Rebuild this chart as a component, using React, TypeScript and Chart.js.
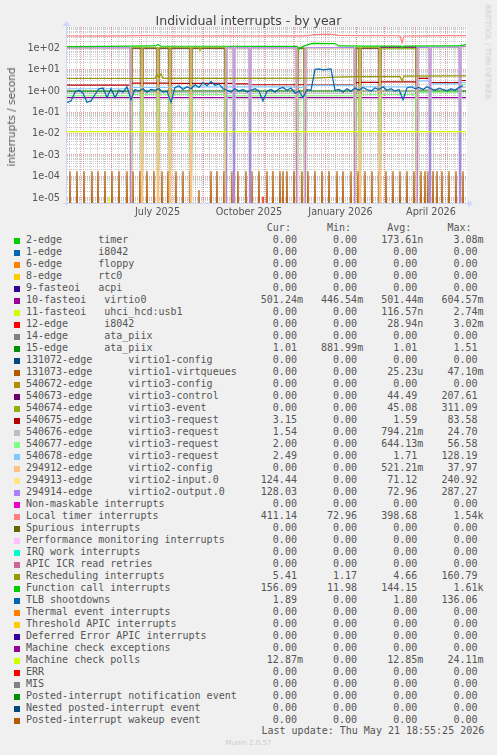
import React, { useEffect, useRef } from 'react';
import { Chart, registerables } from 'chart.js';

Chart.register(...registerables);

// ---------- text ----------
const TITLE = 'Individual interrupts - by year';
const Y_TITLE = 'interrupts / second';
const SIDE_TEXT = 'RRDTOOL / TOBI OETIKER';
const LAST_UPDATE = 'Last update: Thu May 21 18:55:25 2026';
const FOOTER = 'Munin 2.0.57';
const HEADERS = ['Cur:', 'Min:', 'Avg:', 'Max:'];

// ---------- axes ----------
const DAY_MAX = 399; // day 0 = 18 Apr 2025
const X_MIN = 0;
const X_MAX = 400;
const Y_MIN = 5.3e-6;
const Y_MAX = 1000;
const LOG_FLOOR = 1e-9; // zero is drawn below the bottom of the log axis, as rrdtool does
const Y_TICKS = [1e-5, 1e-4, 1e-3, 1e-2, 1e-1, 1, 10, 100];
const MONTH_START_DAYS = [13, 44, 74, 105, 136, 166, 197, 227, 258, 289, 317, 348, 378];
const X_LABELS = ['July 2025', 'October 2025', 'January 2026', 'April 2026'];
const X_LABEL_DAYS = [90.5, 182, 273.5, 364];

// ---------- legend ----------
const NAMES = [
  '2-edge      timer',
  '1-edge      i8042',
  '6-edge      floppy',
  '8-edge      rtc0',
  '9-fasteoi   acpi',
  '10-fasteoi   virtio0',
  '11-fasteoi   uhci_hcd:usb1',
  '12-edge      i8042',
  '14-edge      ata_piix',
  '15-edge      ata_piix',
  '131072-edge      virtio1-config',
  '131073-edge      virtio1-virtqueues',
  '540672-edge      virtio3-config',
  '540673-edge      virtio3-control',
  '540674-edge      virtio3-event',
  '540675-edge      virtio3-request',
  '540676-edge      virtio3-request',
  '540677-edge      virtio3-request',
  '540678-edge      virtio3-request',
  '294912-edge      virtio2-config',
  '294913-edge      virtio2-input.0',
  '294914-edge      virtio2-output.0',
  'Non-maskable interrupts',
  'Local timer interrupts',
  'Spurious interrupts',
  'Performance monitoring interrupts',
  'IRQ work interrupts',
  'APIC ICR read retries',
  'Rescheduling interrupts',
  'Function call interrupts',
  'TLB shootdowns',
  'Thermal event interrupts',
  'Threshold APIC interrupts',
  'Deferred Error APIC interrupts',
  'Machine check exceptions',
  'Machine check polls',
  'ERR',
  'MIS',
  'Posted-interrupt notification event',
  'Nested posted-interrupt event',
  'Posted-interrupt wakeup event',
];

const COLORS = [
  '#00CC00', '#0066B3', '#FF8000', '#FFCC00', '#330099', '#990099', '#CCFF00', '#FF0000',
  '#808080', '#008F00', '#00487D', '#B35A00', '#B38F00', '#6B006B', '#8FB300', '#B30000',
  '#BEBEBE', '#80FF80', '#80C9FF', '#FFC080', '#FFE680', '#AA80FF', '#EE00CC', '#FF8080',
  '#666600', '#FFBFFF', '#00FFCC', '#CC6699', '#999900', '#00CC00', '#0066B3', '#FF8000',
  '#FFCC00', '#330099', '#990099', '#CCFF00', '#FF0000', '#808080', '#008F00', '#00487D',
  '#B35A00',
];

const CUR = [
  '0.00', '0.00', '0.00', '0.00', '0.00', '501.24m', '0.00', '0.00', '0.00', '1.01',
  '0.00', '0.00', '0.00', '0.00', '0.00', '3.15', '1.54', '2.00', '2.49', '0.00',
  '124.44', '128.03', '0.00', '411.14', '0.00', '0.00', '0.00', '0.00', '5.41', '156.09',
  '1.89', '0.00', '0.00', '0.00', '0.00', '12.87m', '0.00', '0.00', '0.00', '0.00', '0.00',
];
const MIN = [
  '0.00', '0.00', '0.00', '0.00', '0.00', '446.54m', '0.00', '0.00', '0.00', '881.99m',
  '0.00', '0.00', '0.00', '0.00', '0.00', '0.00', '0.00', '0.00', '0.00', '0.00',
  '0.00', '0.00', '0.00', '72.96', '0.00', '0.00', '0.00', '0.00', '1.17', '11.98',
  '0.00', '0.00', '0.00', '0.00', '0.00', '0.00', '0.00', '0.00', '0.00', '0.00', '0.00',
];
const AVG = [
  '173.61n', '0.00', '0.00', '0.00', '0.00', '501.44m', '116.57n', '28.94n', '0.00', '1.01',
  '0.00', '25.23u', '0.00', '44.49', '45.08', '1.59', '794.21m', '644.13m', '1.71', '521.21m',
  '71.12', '72.96', '0.00', '398.68', '0.00', '0.00', '0.00', '0.00', '4.66', '144.15',
  '1.80', '0.00', '0.00', '0.00', '0.00', '12.85m', '0.00', '0.00', '0.00', '0.00', '0.00',
];
const MAX = [
  '3.08m', '0.00', '0.00', '0.00', '0.00', '604.57m', '2.74m', '3.02m', '0.00', '1.51',
  '0.00', '47.10m', '0.00', '207.61', '311.09', '83.58', '24.70', '56.58', '128.19', '37.97',
  '240.92', '287.27', '0.00', '1.54k', '0.00', '0.00', '0.00', '0.00', '160.79', '1.61k',
  '136.06', '0.00', '0.00', '0.00', '0.00', '24.11m', '0.00', '0.00', '0.00', '0.00', '0.00',
];

// ---------- series values ----------
type Pt = [number, number | null];

// days of the VM restarts (request queues have no data, config irqs spike)
const RESTART_DAYS = [64, 75, 91, 103, 124, 159, 167, 183, 230, 238, 288, 293, 313, 350, 363, 393];
// level of the request-queue series in the 17 periods between those days
const V540675_LEVELS = [1.9, 2.4, 2.4, 2.4, 2.3, 2.3, 2.3, 2.2, 2.0, 2.0, 1.9, 2.5, 2.6, 2.7, 4.0, 2.5, 3.15];
const V540676_LEVELS = [0.8, 0.9, 0.9, 0.9, 0.9, 0.9, 0.8, 0.8, 0.8, 0.8, 0.8, 1.0, 1.0, 1.0, 1.2, 1.2, 1.54];
const V540677_LEVELS = [0.6, 0.7, 0.7, 0.7, 0.7, 0.7, 0.6, 0.6, 0.6, 0.6, 0.6, 0.7, 0.7, 0.7, 0.9, 0.9, 2.0];
const V540678_LEVELS = [1.3, 1.5, 1.5, 1.5, 1.5, 1.6, 1.6, 1.6, 1.6, 1.5, 1.8, 1.6, 1.6, 1.6, 3.0, 2.2, 2.49];
// virtio2-config interrupts at each restart
const V294912_SPIKES = [95, 90, 100, 92, 96, 105, 90, 95, 98, 92, 100, 90, 98, 95, 92, 100];

// the ~100/s devices: virtio2 (input/output) and virtio3 (control/event) take turns
const V540673: Pt[] = [
  [0, 0], [64, 0], [65, 100], [74, 100], [75, 0], [76, 100], [90, 100], [91, 0], [92, 100],
  [102, 100], [103, 0], [104, 100], [123, 100], [124, 0], [125, 100], [158, 100], [159, 0],
  [230, 0], [231, 100], [237, 100], [238, 0], [288, 0], [289, 100], [292, 100], [293, 0],
  [294, 100], [312, 100], [313, 0], [314, 115], [349, 115], [350, 0], [399, 0],
];
const V540674: Pt[] = [
  [0, 0], [64, 0], [65, 106], [74, 106], [75, 0], [76, 106], [90, 106], [91, 0], [92, 106],
  [102, 106], [103, 0], [104, 106], [123, 106], [124, 0], [125, 106], [132, 106], [133, 80],
  [134, 106], [158, 106], [159, 0], [230, 0], [231, 104], [237, 104], [238, 0], [288, 0],
  [289, 105], [292, 105], [293, 0], [294, 105], [312, 105], [313, 0], [314, 96], [349, 96],
  [350, 0], [399, 0],
];
const V294913: Pt[] = [
  [0, 100], [63, 100], [64, 0], [159, 0], [160, 100], [166, 100], [167, 0], [168, 100],
  [182, 100], [183, 0], [184, 100], [229, 101], [230, 0], [238, 0], [239, 102], [287, 102],
  [288, 0], [350, 0], [351, 106], [362, 106], [363, 0], [364, 108], [392, 110], [393, 0],
  [394, 118], [399, 122],
];
const V294914: Pt[] = [
  [0, 104], [63, 105], [64, 0], [159, 0], [160, 105], [166, 105], [167, 0], [168, 105],
  [182, 105], [183, 0], [184, 105], [229, 106], [230, 0], [238, 0], [239, 107], [287, 108],
  [288, 0], [350, 0], [351, 112], [362, 112], [363, 0], [364, 113], [392, 115], [393, 0],
  [394, 122], [399, 126],
];

// weekly spikes of virtio1-virtqueues
const VQ_SPIKE_DAYS = [
  3, 10, 17, 25, 31, 38, 45, 52, 60, 66, 73, 80, 87, 95, 101, 109, 116, 123, 132, 144,
  150, 157, 165, 171, 179, 185, 192, 200, 206, 213, 216, 220, 227, 235, 241, 248, 255, 262,
  270, 276, 284, 291, 298, 305, 312, 319, 326, 333, 340, 347, 354, 358, 361, 366, 370, 375,
  382, 389, 396,
];
const VQ_SPIKE_VALUES = [
  1.8e-4, 1.8e-4, 1.8e-4, 1.8e-4, 1.8e-4, 1.8e-4, 1.8e-4, 1.8e-4, 1.8e-4, 1.8e-4,
  1.8e-4, 1.8e-4, 1.8e-4, 1.8e-4, 1.8e-4, 1.8e-4, 1.8e-4, 1.8e-4, 2.4e-5, 1.8e-4,
  1.8e-4, 1.8e-4, 1.8e-4, 1.8e-4, 1.8e-4, 1.8e-4, 1.8e-4, 1.8e-4, 1.8e-4, 1.8e-4,
  1.8e-4, 1.8e-4, 1.8e-4, 1.8e-4, 1.8e-4, 1.8e-4, 1.8e-4, 1.8e-4, 1.8e-4, 1.8e-4,
  1.8e-4, 1.8e-4, 1.8e-4, 1.8e-4, 1.8e-4, 1.8e-4, 1.8e-4, 1.8e-4, 1.8e-4, 1.8e-4,
  1.8e-4, 1.8e-4, 1.8e-4, 1.8e-4, 1.8e-4, 1.8e-4, 1.8e-4, 1.8e-4, 1.8e-4,
];
const TIMER_SPIKE_DAYS = [91, 313, 393];
const TIMER_SPIKE_VALUES = [1.2e-5, 1.2e-5, 1.2e-5];
const USB_SPIKE_DAYS = [42];
const USB_SPIKE_VALUES = [1.2e-5];
const I8042_SPIKE_DAYS = [196];
const I8042_SPIKE_VALUES = [1.2e-5];

const VIRTIO0: Pt[] = [[0, 0.5], [DAY_MAX, 0.5]];
const ATA15: Pt[] = [[0, 1.0], [120, 1.0], [250, 1.02], [DAY_MAX, 1.01]];
const MC_POLLS: Pt[] = [[0, 0.0128], [DAY_MAX, 0.0128]];

const LOCAL_TIMER: Pt[] = [
  [0, 380], [30, 378], [60, 385], [75, 395], [90, 390], [110, 385], [130, 380], [160, 382],
  [190, 380], [220, 383], [240, 385], [247, 440], [255, 455], [265, 450], [272, 405],
  [300, 392], [330, 390], [333, 385], [335, 180], [337, 380], [360, 388], [380, 392], [399, 395],
];
const FUNCTION_CALL: Pt[] = [
  [0, 122], [40, 125], [62, 128], [88, 130], [91, 150], [94, 128], [150, 126], [200, 125],
  [230, 124], [232, 95], [236, 124], [245, 170], [268, 168], [272, 130], [300, 128],
  [334, 128], [335, 105], [337, 128], [380, 130], [392, 132], [399, 150],
];
const RESCHEDULING: Pt[] = [
  [0, 3.9], [60, 3.9], [88, 4.0], [90, 6.0], [92, 4.5], [94, 6.5], [96, 4.0], [180, 4.0],
  [248, 4.1], [268, 4.5], [290, 4.8], [333, 4.8], [335, 3.0], [337, 5.0], [399, 5.2],
];
// TLB shootdowns sampled every 4 days
const TLB_STEP = 4;
const TLB_VALUES = [
  0.3, 0.35, 0.9, 1.1, 0.8, 0.3, 0.35, 0.7, 1.3, 1.4,
  0.5, 1.3, 0.5, 1.1, 0.9, 1.6, 0.4, 1.2, 1.0, 1.3,
  0.9, 1.2, 1.1, 1.3, 0.9, 1.0, 0.3, 1.5, 1.8, 1.2,
  1.6, 1.3, 2.0, 1.5, 2.5, 1.8, 2.8, 1.9, 2.2, 1.3,
  1.1, 0.9, 1.3, 1.0, 1.2, 0.9, 1.1, 1.3, 1.0, 0.35,
  1.0, 1.2, 0.9, 1.3, 1.5, 1.1, 1.4, 0.8, 1.0, 0.5,
  1.2, 1.1, 10.5, 11, 10, 10.5, 11, 1.1, 1.2, 0.9,
  1.3, 1.0, 1.4, 1.1, 1.5, 1.2, 1.0, 1.4, 1.2, 1.6,
  1.1, 1.3, 1.0, 1.2, 0.4, 1.4, 1.6, 1.3, 1.5, 1.2,
  1.6, 1.3, 1.1, 1.4, 1.2, 1.0, 1.3, 1.1, 1.5, 1.8,
];

// ---------- builders ----------
const ZERO: Pt[] = [[0, 0], [DAY_MAX, 0]];

// levels between restarts; at a restart the value is `atRestart` (null = no data)
function periodPoints(levels: number[], atRestart: number | null): Pt[] {
  const pts: Pt[] = [];
  for (let p = 0; p < levels.length; p++) {
    const start = p === 0 ? 0 : RESTART_DAYS[p - 1] + 1;
    const end = p === levels.length - 1 ? DAY_MAX : RESTART_DAYS[p] - 1;
    pts.push([start, levels[p]], [end, levels[p]]);
    if (p < RESTART_DAYS.length) pts.push([RESTART_DAYS[p], atRestart]);
  }
  return pts;
}

function spikePoints(days: number[], values: number[]): Pt[] {
  const pts: Pt[] = [[0, 0]];
  days.forEach((d, i) => {
    pts.push([d - 1, 0], [d, values[i]], [d + 1, 0]);
  });
  pts.push([DAY_MAX, 0]);
  return pts;
}

const TLB: Pt[] = TLB_VALUES.map((v, i) => [i * TLB_STEP, v] as Pt);

const SERIES_POINTS: Pt[][] = [
  spikePoints(TIMER_SPIKE_DAYS, TIMER_SPIKE_VALUES),
  ZERO, ZERO, ZERO, ZERO,
  VIRTIO0,
  spikePoints(USB_SPIKE_DAYS, USB_SPIKE_VALUES),
  spikePoints(I8042_SPIKE_DAYS, I8042_SPIKE_VALUES),
  ZERO,
  ATA15,
  ZERO,
  spikePoints(VQ_SPIKE_DAYS, VQ_SPIKE_VALUES),
  ZERO,
  V540673,
  V540674,
  periodPoints(V540675_LEVELS, null),
  periodPoints(V540676_LEVELS, null),
  periodPoints(V540677_LEVELS, 0),
  periodPoints(V540678_LEVELS, null),
  spikePoints(RESTART_DAYS, V294912_SPIKES),
  V294913,
  V294914,
  ZERO,
  LOCAL_TIMER,
  ZERO, ZERO, ZERO, ZERO,
  RESCHEDULING,
  FUNCTION_CALL,
  TLB,
  ZERO, ZERO, ZERO, ZERO,
  MC_POLLS,
  ZERO, ZERO, ZERO, ZERO, ZERO,
];

// ---------- styling ----------
const FONT_COLOR = '#555555';
const AXIS_COLOR = '#CFD6F8';
const MINOR_GRID = 'rgba(140,140,140,0.45)';
const MAJOR_GRID = 'rgba(225,70,70,0.5)';
const MONO = '"DejaVu Sans Mono", monospace';
const SANS = '"DejaVu Sans", sans-serif';

function fmtExp(v: number): string {
  const e = Math.round(Math.log10(v));
  const sign = e < 0 ? '-' : '+';
  return '1e' + sign + String(Math.abs(e)).padStart(2, '0');
}

function field(s: string): string {
  const last = s[s.length - 1];
  const hasUnit = /[a-zA-Z]/.test(last);
  const num = hasUnit ? s.slice(0, -1) : s;
  return num.padStart(6) + (hasUnit ? last : ' ');
}

function legendLine(i: number): string {
  return NAMES[i].padEnd(39) + [CUR[i], MIN[i], AVG[i], MAX[i]].map(field).join('   ');
}
const HEADER_LINE = ''.padEnd(39) + HEADERS.map((h) => (' ' + h).padEnd(7)).join('   ');

const rrdPlugin = {
  id: 'rrdStyle',
  beforeDatasetsDraw(chart: any) {
    const { ctx, chartArea: a, scales } = chart;
    const xs = scales.x;
    const ys = scales.y;
    ctx.save();
    ctx.fillStyle = '#ffffff';
    ctx.fillRect(a.left, a.top, a.right - a.left, a.bottom - a.top);
    ctx.lineWidth = 1;
    ctx.setLineDash([1, 1]);
    const hline = (v: number, color: string) => {
      const y = Math.round(ys.getPixelForValue(v)) - 0.5;
      if (y < a.top || y > a.bottom) return;
      ctx.strokeStyle = color;
      ctx.beginPath();
      ctx.moveTo(a.left, y);
      ctx.lineTo(a.right, y);
      ctx.stroke();
    };
    const vline = (d: number, color: string) => {
      const x = Math.round(xs.getPixelForValue(d)) + 0.5;
      ctx.strokeStyle = color;
      ctx.beginPath();
      ctx.moveTo(x, a.bottom);
      ctx.lineTo(x, a.top);
      ctx.stroke();
    };
    for (let e = -6; e <= 2; e++) {
      for (let k = 2; k <= 9; k++) hline(k * Math.pow(10, e), MINOR_GRID);
    }
    for (let d = 2; d < X_MAX; d += 7) vline(d, MINOR_GRID);
    Y_TICKS.forEach((v) => hline(v, MAJOR_GRID));
    MONTH_START_DAYS.forEach((d) => vline(d, MAJOR_GRID));
    ctx.restore();
  },
  afterDatasetsDraw(chart: any) {
    const { ctx, chartArea: a } = chart;
    ctx.save();
    ctx.fillStyle = AXIS_COLOR;
    const by = Math.round(a.bottom) - 1;
    const lx = Math.round(a.left) - 1;
    ctx.fillRect(lx - 3, by, a.right - lx + 4, 1);
    ctx.fillRect(lx, a.top - 2, 1, by - a.top + 5);
    ctx.beginPath();
    ctx.moveTo(a.right + 1, by - 3);
    ctx.lineTo(a.right + 6, by + 0.5);
    ctx.lineTo(a.right + 1, by + 4);
    ctx.closePath();
    ctx.fill();
    ctx.beginPath();
    ctx.moveTo(lx - 3.5, a.top - 1);
    ctx.lineTo(lx + 0.5, a.top - 6);
    ctx.lineTo(lx + 4.5, a.top - 1);
    ctx.closePath();
    ctx.fill();
    ctx.restore();
  },
};

export default function App() {
  const canvasRef = useRef<HTMLCanvasElement | null>(null);

  useEffect(() => {
    const canvas = canvasRef.current;
    if (!canvas) return;
    const n = SERIES_POINTS.length;
    const chart = new Chart(canvas, {
      type: 'line',
      data: {
        datasets: SERIES_POINTS.map((pts, i) => ({
          label: NAMES[i],
          data: pts.map(([x, y]) => ({ x, y: y === null ? null : y > 0 ? y : LOG_FLOOR })),
          borderColor: COLORS[i],
          backgroundColor: COLORS[i],
          borderWidth: 1.2,
          pointRadius: 0,
          tension: 0,
          fill: false,
          spanGaps: false,
          clip: 0,
          order: n - i,
        })),
      },
      options: {
        responsive: false,
        animation: false,
        events: [],
        layout: { padding: { left: 0, right: 30, top: 27, bottom: 0 } },
        plugins: { legend: { display: false }, tooltip: { enabled: false }, title: { display: false } },
        scales: {
          x: {
            type: 'linear',
            min: X_MIN,
            max: X_MAX,
            grid: { display: false, drawTicks: false },
            border: { display: false },
            afterBuildTicks: (scale: any) => {
              scale.ticks = X_LABEL_DAYS.map((v) => ({ value: v }));
            },
            afterFit: (scale: any) => {
              scale.height = 16;
            },
            ticks: {
              autoSkip: false,
              maxRotation: 0,
              padding: 3,
              color: FONT_COLOR,
              font: { family: SANS, size: 9.7 },
              callback: (_v: any, i: number) => X_LABELS[i],
            },
          },
          y: {
            type: 'logarithmic',
            min: Y_MIN,
            max: Y_MAX,
            grid: { display: false, drawTicks: false },
            border: { display: false },
            afterBuildTicks: (scale: any) => {
              scale.ticks = Y_TICKS.map((v) => ({ value: v }));
            },
            afterFit: (scale: any) => {
              scale.width = 67;
            },
            ticks: {
              autoSkip: false,
              padding: 7,
              color: FONT_COLOR,
              font: { family: SANS, size: 9.7 },
              callback: (v: any) => fmtExp(Number(v)),
            },
          },
        },
      } as any,
      plugins: [rrdPlugin],
    });
    return () => chart.destroy();
  }, []);

  const rowTop = 233.9;
  const rowH = 12;

  return (
    <div
      style={{
        position: 'absolute',
        left: 0,
        top: 0,
        width: 497,
        height: 755,
        background: '#f0f0f0',
        overflow: 'hidden',
      }}
    >
      <canvas
        ref={canvasRef}
        width={497}
        height={220}
        style={{ position: 'absolute', left: 0, top: 0, width: 497, height: 220 }}
      />
      <div
        style={{
          position: 'absolute',
          left: 0,
          width: 497,
          top: 12.5,
          textAlign: 'center',
          font: `12.5px ${SANS}`,
          color: '#444444',
          whiteSpace: 'nowrap',
        }}
      >
        {TITLE}
      </div>
      <div
        style={{
          position: 'absolute',
          left: 11,
          top: 117,
          transform: 'translate(-50%, -50%) rotate(-90deg)',
          font: `10.5px ${SANS}`,
          color: FONT_COLOR,
          whiteSpace: 'nowrap',
        }}
      >
        {Y_TITLE}
      </div>
      <div
        style={{
          position: 'absolute',
          left: 488,
          top: 52,
          transform: 'translate(-50%, -50%) rotate(90deg)',
          font: `7.4px ${SANS}`,
          color: '#cccccc',
          whiteSpace: 'nowrap',
        }}
      >
        {SIDE_TEXT}
      </div>
      <div
        style={{
          position: 'absolute',
          left: 26,
          top: rowTop - rowH,
          font: `10px ${MONO}`,
          lineHeight: '12px',
          color: FONT_COLOR,
          whiteSpace: 'pre',
        }}
      >
        {HEADER_LINE}
      </div>
      {NAMES.map((_, i) => (
        <React.Fragment key={i}>
          <div
            style={{
              position: 'absolute',
              left: 14,
              top: 237.5 + i * rowH,
              width: 6,
              height: 6,
              background: COLORS[i],
            }}
          />
          <div
            style={{
              position: 'absolute',
              left: 26,
              top: rowTop + i * rowH,
              font: `10px ${MONO}`,
              lineHeight: '12px',
              color: FONT_COLOR,
              whiteSpace: 'pre',
            }}
          >
            {legendLine(i)}
          </div>
        </React.Fragment>
      ))}
      <div
        style={{
          position: 'absolute',
          left: 261.5,
          top: 725.2,
          font: `10px ${MONO}`,
          lineHeight: '12px',
          color: FONT_COLOR,
          whiteSpace: 'pre',
        }}
      >
        {LAST_UPDATE}
      </div>
      <div
        style={{
          position: 'absolute',
          left: 0,
          width: 497,
          top: 739,
          textAlign: 'center',
          font: `7px ${SANS}`,
          color: '#cccccc',
          whiteSpace: 'nowrap',
        }}
      >
        {FOOTER}
      </div>
    </div>
  );
}
